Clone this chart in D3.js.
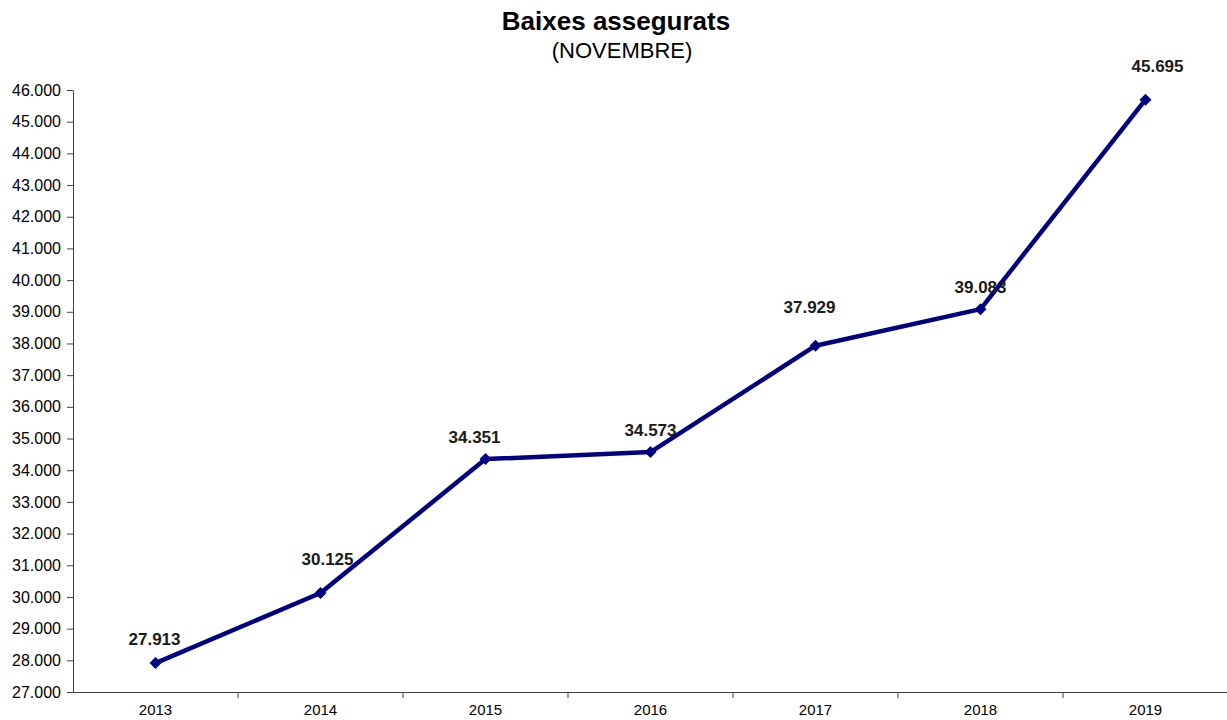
<!DOCTYPE html>
<html>
<head>
<meta charset="utf-8">
<script src="https://cdn.jsdelivr.net/npm/d3@7"></script>
<style>
  body { margin: 0; background: #fff; font-family: "Liberation Sans", Arial, sans-serif; }
  .axis text { fill: #000; font-family: "Liberation Sans", Arial, sans-serif; }
  .axis path, .axis line { stroke: #404040; }
</style>
</head>
<body>
<svg id="chart" width="1227" height="720"></svg>
<script>
// chart data
const years = ['2013', '2014', '2015', '2016', '2017', '2018', '2019'];
const values = [27913, 30125, 34351, 34573, 37929, 39083, 45695];
const yTicks = d3.range(27000, 46001, 1000);

const width = 1227, height = 720;
const margin = {top: 90, right: -1, bottom: 28, left: 73};
const innerW = width - margin.left - margin.right;
const innerH = height - margin.top - margin.bottom;

// labels were hand-placed in the original, nudge them the same way (px)
const labelNudge = [[-1, -18], [7, -28], [-11, -16], [0, -16], [-6, -33], [0, -16], [12, -28]];

const svg = d3.select('#chart');
const g = svg.append('g').attr('transform', `translate(${margin.left},${margin.top})`);

const x = d3.scaleBand().domain(years).range([0, innerW]).padding(0);
const y = d3.scaleLinear().domain([27000, 46000]).range([innerH, 0]);

// 27913 -> "27.913"
const thousands = d => {
    const s = String(d);
    return s.slice(0, s.length - 3) + '.' + s.slice(-3);
};

// y axis
const yAxis = g.append('g')
    .attr('class', 'axis')
    .call(d3.axisLeft(y).tickValues(yTicks).tickFormat(thousands).tickSize(6).tickSizeOuter(0));
yAxis.selectAll('text').attr('x', -12).style('font-size', '16px');

// x axis, ticks sit between categories
const xAxis = g.append('g')
    .attr('class', 'axis')
    .attr('transform', `translate(0,${innerH})`)
    .call(d3.axisBottom(x).tickSize(0).tickSizeOuter(0));
xAxis.selectAll('text').attr('dy', '1.3em').style('font-size', '15px');
xAxis.selectAll('.sep')
    .data(years.slice(1))
    .enter().append('line')
    .attr('class', 'sep')
    .attr('x1', d => x(d)).attr('x2', d => x(d))
    .attr('y1', 0).attr('y2', 6);

// line
const cx = (d, i) => x(years[i]) + x.bandwidth() / 2;
const line = d3.line()
    .x(cx)
    .y(d => y(d));

g.append('path')
    .datum(values)
    .attr('fill', 'none')
    .attr('stroke', '#000080')
    .attr('stroke-width', 4.5)
    .attr('stroke-linejoin', 'round')
    .attr('d', line);

// diamond markers
g.selectAll('.marker')
    .data(values)
    .enter().append('path')
    .attr('class', 'marker')
    .attr('d', d3.symbol().type(d3.symbolSquare).size(72))
    .attr('fill', '#000080')
    .attr('transform', (d, i) => `translate(${cx(d, i)},${y(d)}) rotate(45)`);

// value labels
g.selectAll('.label')
    .data(values)
    .enter().append('text')
    .attr('class', 'label')
    .attr('x', (d, i) => cx(d, i) + labelNudge[i][0])
    .attr('y', (d, i) => y(d) + labelNudge[i][1])
    .attr('text-anchor', 'middle')
    .style('font-size', '17px')
    .style('font-weight', 'bold')
    .style('fill', '#1a1a1a')
    .text(thousands);

// titles
svg.append('text')
    .attr('x', 616).attr('y', 30)
    .attr('text-anchor', 'middle')
    .style('font-size', '26px')
    .style('font-weight', 'bold')
    .text('Baixes assegurats');

svg.append('text')
    .attr('x', 622).attr('y', 58)
    .attr('text-anchor', 'middle')
    .style('font-size', '22px')
    .text('(NOVEMBRE)');
</script>
</body>
</html>
